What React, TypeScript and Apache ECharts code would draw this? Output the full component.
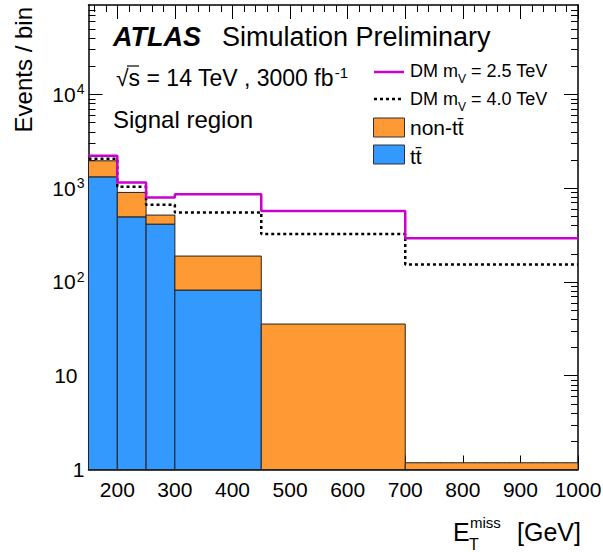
import React, { useEffect, useRef } from "react";
import * as echarts from "echarts";

// Bin edges in E_T^miss [GeV]
const binEdges = [150, 200, 250, 300, 450, 700, 1000];
// Stacked backgrounds (events / bin)
const ttbar = [1323, 495, 414, 82, 0, 0];
const nonTtbar = [637, 407, 103, 107, 35.6, 1.18];
// Signal models
const dm25 = [2215, 1153, 798, 865, 570, 292];
const dm40 = [2057, 1035, 665, 552, 324, 154];

const xMajor = [200, 300, 400, 500, 600, 700, 800, 900, 1000];
const yMajor = [1, 10, 100, 1000, 10000];

const FONT = "'Liberation Sans', Arial, Helvetica, sans-serif";

function buildXMinor(): number[] {
  const out: number[] = [];
  for (let v = 160; v < 1000; v += 20) if (v % 100 !== 0) out.push(v);
  return out;
}
function buildYMinor(): number[] {
  const out: number[] = [];
  for (let d = 1; d <= 10000; d *= 10) for (let k = 2; k <= 9; k++) if (k * d < 90000) out.push(k * d);
  return out;
}

function stepData(vals: number[]) {
  const pts: number[][] = vals.map((v, i) => [binEdges[i], v]);
  pts.push([binEdges[binEdges.length - 1], vals[vals.length - 1]]);
  return pts;
}

export default function App() {
  const ref = useRef<HTMLDivElement>(null);
  useEffect(() => {
    if (!ref.current) return;
    const chart = echarts.init(ref.current, undefined, { renderer: "svg" });
    const xMinor = buildXMinor();
    const yMinor = buildYMinor();

    const blueRects = ttbar
      .map((v, i) => [binEdges[i], binEdges[i + 1], 1, v])
      .filter((r) => r[3] > 1);
    const orangeRects = nonTtbar.map((v, i) => [
      binEdges[i],
      binEdges[i + 1],
      Math.max(1, ttbar[i]),
      ttbar[i] + v,
    ]);

    const rectRender = (color: string) => (params: any, api: any) => {
      const p0 = api.coord([api.value(0), api.value(3)]);
      const p1 = api.coord([api.value(1), api.value(2)]);
      return {
        type: "rect",
        shape: { x: p0[0], y: p0[1], width: p1[0] - p0[0], height: p1[1] - p0[1] },
        style: { fill: color, stroke: "#222", lineWidth: 1 },
      };
    };

    const lineCol = "#000";
    const xBase = (pos: string, ticks: number[], len: number, labels: boolean, line: boolean) => ({
      type: "value",
      min: 150,
      max: 1000,
      position: pos,
      gridIndex: 0,
      axisLine: { show: line, onZero: false, lineStyle: { color: lineCol, width: 1.5 } },
      axisTick: { show: true, inside: true, length: len, customValues: ticks, lineStyle: { color: lineCol, width: 1 } },
      axisLabel: labels
        ? {
            show: true,
            customValues: xMajor,
            margin: 9,
            color: "#000",
            fontSize: 21,
            fontFamily: FONT,
            hideOverlap: false,
            formatter: (v: number) => String(Math.round(v)),
          }
        : { show: false },
      splitLine: { show: false },
    });
    const yBase = (pos: string, ticks: number[], len: number, labels: boolean, line: boolean) => ({
      type: "log",
      logBase: 10,
      min: 1,
      max: 90000,
      position: pos,
      gridIndex: 0,
      axisLine: { show: line, onZero: false, lineStyle: { color: lineCol, width: 1.5 } },
      axisTick: { show: true, inside: true, length: len, customValues: ticks, lineStyle: { color: lineCol, width: 1 } },
      axisLabel: labels
        ? {
            show: true,
            customValues: yMajor,
            margin: 4,
            color: "#000",
            fontSize: 21,
            fontFamily: FONT,
            formatter: (v: number) => {
              const e = Math.round(Math.log10(v));
              if (e === 0) return "{b|1}";
              if (e === 1) return "{c|10}";
              return "{b|10}{sup|" + e + "}";
            },
            rich: {
              b: { fontSize: 21, fontFamily: FONT, color: "#000" },
              c: { fontSize: 21, fontFamily: FONT, color: "#000", padding: [0, 7, 0, 0] },
              sup: { fontSize: 14, fontFamily: FONT, color: "#000", verticalAlign: "top", padding: [0, 0, 10, 1] },
            },
          }
        : { show: false },
      splitLine: { show: false },
    });

    const txt = (x: number, y: number, text: string, size: number, extra: any = {}) => ({
      type: "text",
      x,
      y,
      style: {
        text,
        fontSize: size,
        fontFamily: FONT,
        fill: "#000",
        textAlign: "left",
        textVerticalAlign: "middle",
        ...extra,
      },
    });

    chart.setOption({
      animation: false,
      backgroundColor: "#fff",
      grid: { left: 88.5, right: 25, top: 5, bottom: 82.5, containLabel: false, outerBoundsMode: "none" },
      xAxis: [
        xBase("bottom", xMajor, 14, true, true),
        xBase("bottom", xMinor, 7, false, false),
        xBase("top", xMajor, 14, false, true),
        xBase("top", xMinor, 7, false, false),
      ],
      yAxis: [
        yBase("left", yMajor, 14, true, true),
        yBase("left", yMinor, 7, false, false),
        yBase("right", yMajor, 14, false, true),
        yBase("right", yMinor, 7, false, false),
      ],
      series: [
        {
          type: "custom",
          name: "tt",
          xAxisIndex: 0,
          yAxisIndex: 0,
          data: blueRects,
          encode: { x: [0, 1], y: [2, 3] },
          renderItem: rectRender("#3399ff"),
          z: 2,
        },
        {
          type: "custom",
          name: "non-tt",
          xAxisIndex: 0,
          yAxisIndex: 0,
          data: orangeRects,
          encode: { x: [0, 1], y: [2, 3] },
          renderItem: rectRender("#ff9933"),
          z: 2,
        },
        {
          type: "line",
          name: "DM 4.0",
          xAxisIndex: 0,
          yAxisIndex: 0,
          step: "end",
          symbol: "none",
          data: stepData(dm40),
          lineStyle: { color: "#000", width: 2.5, type: [3, 3] },
          z: 3,
        },
        {
          type: "line",
          name: "DM 2.5",
          xAxisIndex: 0,
          yAxisIndex: 0,
          step: "end",
          symbol: "none",
          data: stepData(dm25),
          lineStyle: { color: "#cc00cc", width: 2.5 },
          z: 4,
        },
      ],
      graphic: [
        txt(113, 36.5, "ATLAS", 27, { fontWeight: "bold", fontStyle: "italic" }),
        txt(222, 36.5, "Simulation Preliminary", 27),
        txt(116, 77.5, "{a|√s = 14 TeV , 3000 fb}{sup|-1}", 23, {
          rich: {
            a: { fontSize: 23, fontFamily: FONT, fill: "#000", lineHeight: 26 },
            sup: { fontSize: 15, fontFamily: FONT, fill: "#000", verticalAlign: "top", lineHeight: 26, padding: [0, 0, 0, 1] },
          },
        }),
        { type: "line", shape: { x1: 127, y1: 66, x2: 139, y2: 66 }, style: { stroke: "#000", lineWidth: 1.2 } },
        txt(113, 119, "Signal region", 24),
        // legend
        { type: "line", shape: { x1: 374, y1: 72, x2: 404, y2: 72 }, style: { stroke: "#cc00cc", lineWidth: 2.5 } },
        { type: "line", shape: { x1: 374, y1: 99, x2: 404, y2: 99 }, style: { stroke: "#000", lineWidth: 2.5, lineDash: [3, 3] } },
        txt(410, 71, "{a|DM m}{s|V}{a| = 2.5 TeV}", 18, {
          rich: {
            a: { fontSize: 18, fontFamily: FONT, fill: "#000", lineHeight: 20 },
            s: { fontSize: 12, fontFamily: FONT, fill: "#000", verticalAlign: "bottom", lineHeight: 20, padding: [0, 0, -4, 0] },
          },
        }),
        txt(410, 99, "{a|DM m}{s|V}{a| = 4.0 TeV}", 18, {
          rich: {
            a: { fontSize: 18, fontFamily: FONT, fill: "#000", lineHeight: 20 },
            s: { fontSize: 12, fontFamily: FONT, fill: "#000", verticalAlign: "bottom", lineHeight: 20, padding: [0, 0, -4, 0] },
          },
        }),
        { type: "rect", shape: { x: 373.5, y: 118, width: 31, height: 19 }, style: { fill: "#ff9933", stroke: "#333", lineWidth: 1 } },
        { type: "rect", shape: { x: 373.5, y: 145, width: 31, height: 19 }, style: { fill: "#3399ff", stroke: "#333", lineWidth: 1 } },
        txt(410, 127.5, "non-tt\u0304", 21),
        txt(410, 156, "tt\u0304", 21),
        // axis titles
        {
          type: "text",
          x: 23,
          y: 7,
          rotation: Math.PI / 2,
          style: { text: "Events / bin", fontSize: 24, fontFamily: FONT, fill: "#000", textAlign: "right", textVerticalAlign: "middle" },
        },
        txt(453, 532, "E", 25),
        txt(470, 522.6, "miss", 15),
        txt(469, 544, "T", 16),
        txt(581, 532, "[GeV]", 25, { textAlign: "right" }),
      ],
    });
    return () => chart.dispose();
  }, []);
  return <div ref={ref} style={{ position: "absolute", left: 0, top: 0, width: 603, height: 552 }} />;
}
